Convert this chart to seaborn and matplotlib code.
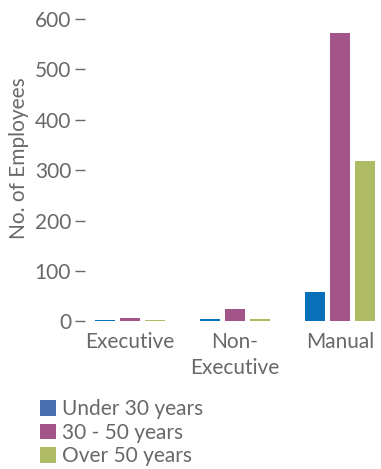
import matplotlib
matplotlib.use("Agg")
import matplotlib.pyplot as plt
from matplotlib.patches import Patch
import pandas as pd
import seaborn as sns

# data
categories = ["Executive", "Non-\nExecutive", "Manual"]
age_groups = ["Under 30 years", "30 - 50 years", "Over 50 years"]
under_30 = [3, 5, 58]
age_30_50 = [6, 25, 571]
over_50 = [2, 5, 318]
y_ticks = [0, 100, 200, 300, 400, 500, 600]

bar_colors = ["#0870b8", "#a35489", "#aebb64"]
legend_colors = ["#4a6fb0", "#a35489", "#aebb64"]
grey = "#686868"

df = pd.DataFrame({
    "category": categories * 3,
    "group": [g for g in age_groups for _ in categories],
    "value": under_30 + age_30_50 + over_50,
})

sns.set_style("white")
plt.rcParams["font.family"] = ["Lato", "DejaVu Sans"]
fs = 15

fig = plt.figure(figsize=(3.81, 4.69), dpi=100)
ax = fig.add_axes([0.223, 0.3145, 0.777, 0.646])

sns.barplot(data=df, x="category", y="value", hue="group", order=categories,
            hue_order=age_groups, palette=bar_colors, width=0.714, gap=0.2,
            saturation=1, legend=False, linewidth=0, ax=ax)

ax.set_xlim(-0.4286, 2.390)
ax.set_ylim(0, 600)
ax.set_yticks(y_ticks)
for s in ax.spines.values():
    s.set_visible(False)
ax.tick_params(axis="y", left=True, length=7, width=1, color=grey,
               labelcolor=grey, labelsize=fs, pad=3)
ax.tick_params(axis="x", bottom=False, length=0, labelcolor=grey,
               labelsize=fs, pad=7.5)
for t in ax.get_xticklabels():
    t.set_linespacing(1.4)
ax.set_xlabel("")
ax.set_ylabel("No. of Employees", color=grey, fontsize=fs)
ax.yaxis.set_label_coords(-0.19, 0.54)

handles = [Patch(facecolor=c, edgecolor="none") for c in legend_colors]
fig.legend(handles, age_groups, loc="upper left", bbox_to_anchor=(0.077, 0.1705),
           frameon=False, fontsize=fs, handlelength=0.78, handleheight=0.78,
           handletextpad=0.3, labelspacing=0.16, borderpad=0, labelcolor=grey)

fig.savefig("out.png", dpi=100)
